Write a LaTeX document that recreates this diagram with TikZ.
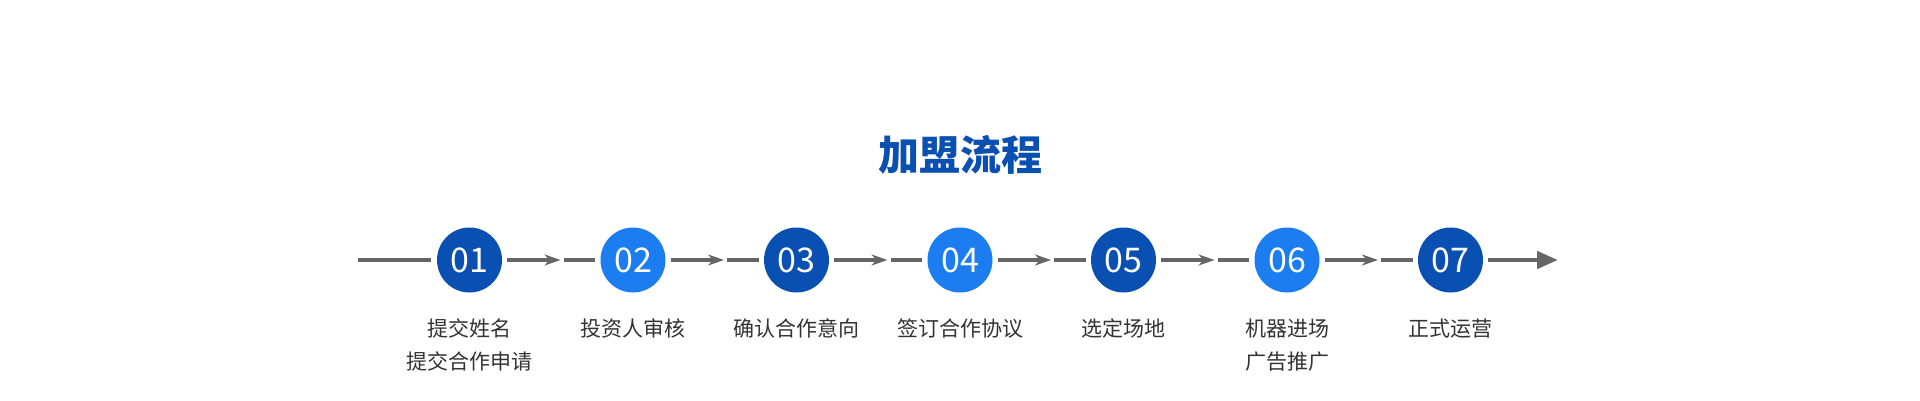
\documentclass[tikz,border=0pt]{standalone}
\usepackage{fontspec}
\setmainfont{Noto Sans CJK SC}
\usetikzlibrary{arrows.meta,calc}
\definecolor{darkblue}{HTML}{0A50B2}
\definecolor{lightblue}{HTML}{1B7DF0}
\definecolor{linegrey}{HTML}{666666}
\definecolor{textgrey}{HTML}{333333}
\tikzset{
  numcircle/.style={circle,minimum size=65pt,inner sep=0pt,text=white,font=\fontsize{34}{34}\selectfont},
  flowline/.style={draw=linegrey,line width=4.5pt},
  midtip/.style={-{Stealth[length=16pt,width=11pt,inset=5pt]}},
  endtip/.style={-{Triangle[length=21pt,width=17pt]}},
  labeltext/.style={anchor=base,inner sep=0pt,text=textgrey,font=\fontsize{21}{21}\selectfont},
  titletext/.style={anchor=base,inner sep=0pt,text=darkblue,font=\fontsize{41}{41}\selectfont\bfseries}
}
\begin{document}
\begin{tikzpicture}[x=1pt,y=-1pt]
\path[use as bounding box] (0,0) rectangle (1920,400);
\fill[white] (0,0) rectangle (1920,400);
\node[titletext] (title) at (960,170.5) {加盟流程};
\foreach \k/\c in {1/darkblue,2/lightblue,3/darkblue,4/lightblue,5/darkblue,6/lightblue,7/darkblue}{
  \node[numcircle,fill=\c] (c\k) at ({469.5+163.5*(\k-1)},260) {0\k};
}
\coordinate (start) at (358,260);
\draw[flowline,shorten >=6pt] (start) -- (c1.west);
\foreach \k [evaluate=\k as \n using int(\k+1)] in {1,...,6}{
  \coordinate (t\k) at ($(c\k)+(91,0)$);
  \draw[flowline,midtip,shorten <=5pt] (c\k.east) -- (t\k);
  \draw[flowline,shorten <=3pt,shorten >=5pt] (t\k) -- (c\n.west);
}
\coordinate (finish) at (1558,260);
\draw[flowline,endtip,shorten <=5pt] (c7.east) -- (finish);
\node[labeltext] (l1a) at (469.5,336.5) {提交姓名};
\node[labeltext] (l1b) at (469.5,369) {提交合作申请};
\node[labeltext] (l2) at (633,336.5) {投资人审核};
\node[labeltext] (l3) at (796.5,336.5) {确认合作意向};
\node[labeltext] (l4) at (960,336.5) {签订合作协议};
\node[labeltext] (l5) at (1123.5,336.5) {选定场地};
\node[labeltext] (l6a) at (1287,336.5) {机器进场};
\node[labeltext] (l6b) at (1287,369) {广告推广};
\node[labeltext] (l7) at (1450.5,336.5) {正式运营};
\end{tikzpicture}
\end{document}
